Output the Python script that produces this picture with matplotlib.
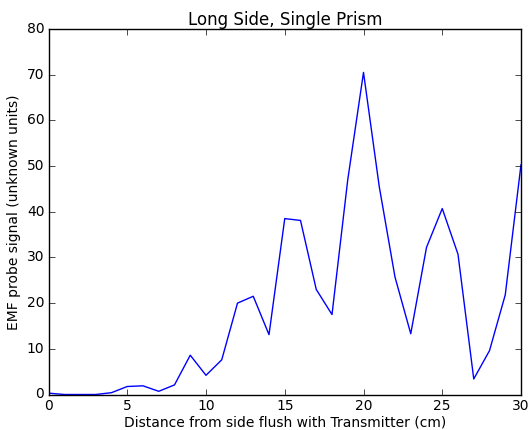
import matplotlib
matplotlib.use("Agg")
import matplotlib.pyplot as plt

distance = list(range(0, 31))
signal = [0.3, 0.0, 0.0, 0.0, 0.4, 1.75, 1.9, 0.7, 2.1, 8.6,
          4.2, 7.6, 20.0, 21.5, 13.1, 38.5, 38.1, 23.0, 17.5, 47.0,
          70.5, 45.5, 25.7, 13.3, 32.2, 40.7, 30.7, 3.4, 9.6, 21.8,
          50.3]

plt.style.use('classic')
fig = plt.figure(figsize=(5.29, 4.30), dpi=100, facecolor='white')
ax = fig.add_axes([48.5/529, 1-394.5/430, (521-48.5)/529, (394.5-29)/430])
ax.plot(distance, signal, color='b', linewidth=1.0)
ax.set_xlim(0, 30)
ax.set_ylim(0, 80)
ax.set_title("Long Side, Single Prism", fontsize=12, pad=3)
ax.set_xlabel("Distance from side flush with Transmitter (cm)", fontsize=10, labelpad=2)
ax.set_ylabel("EMF probe signal (unknown units)", fontsize=10, labelpad=4)
ax.tick_params(labelsize=10, pad=3)
fig.savefig("out.png", dpi=100, facecolor='white')
